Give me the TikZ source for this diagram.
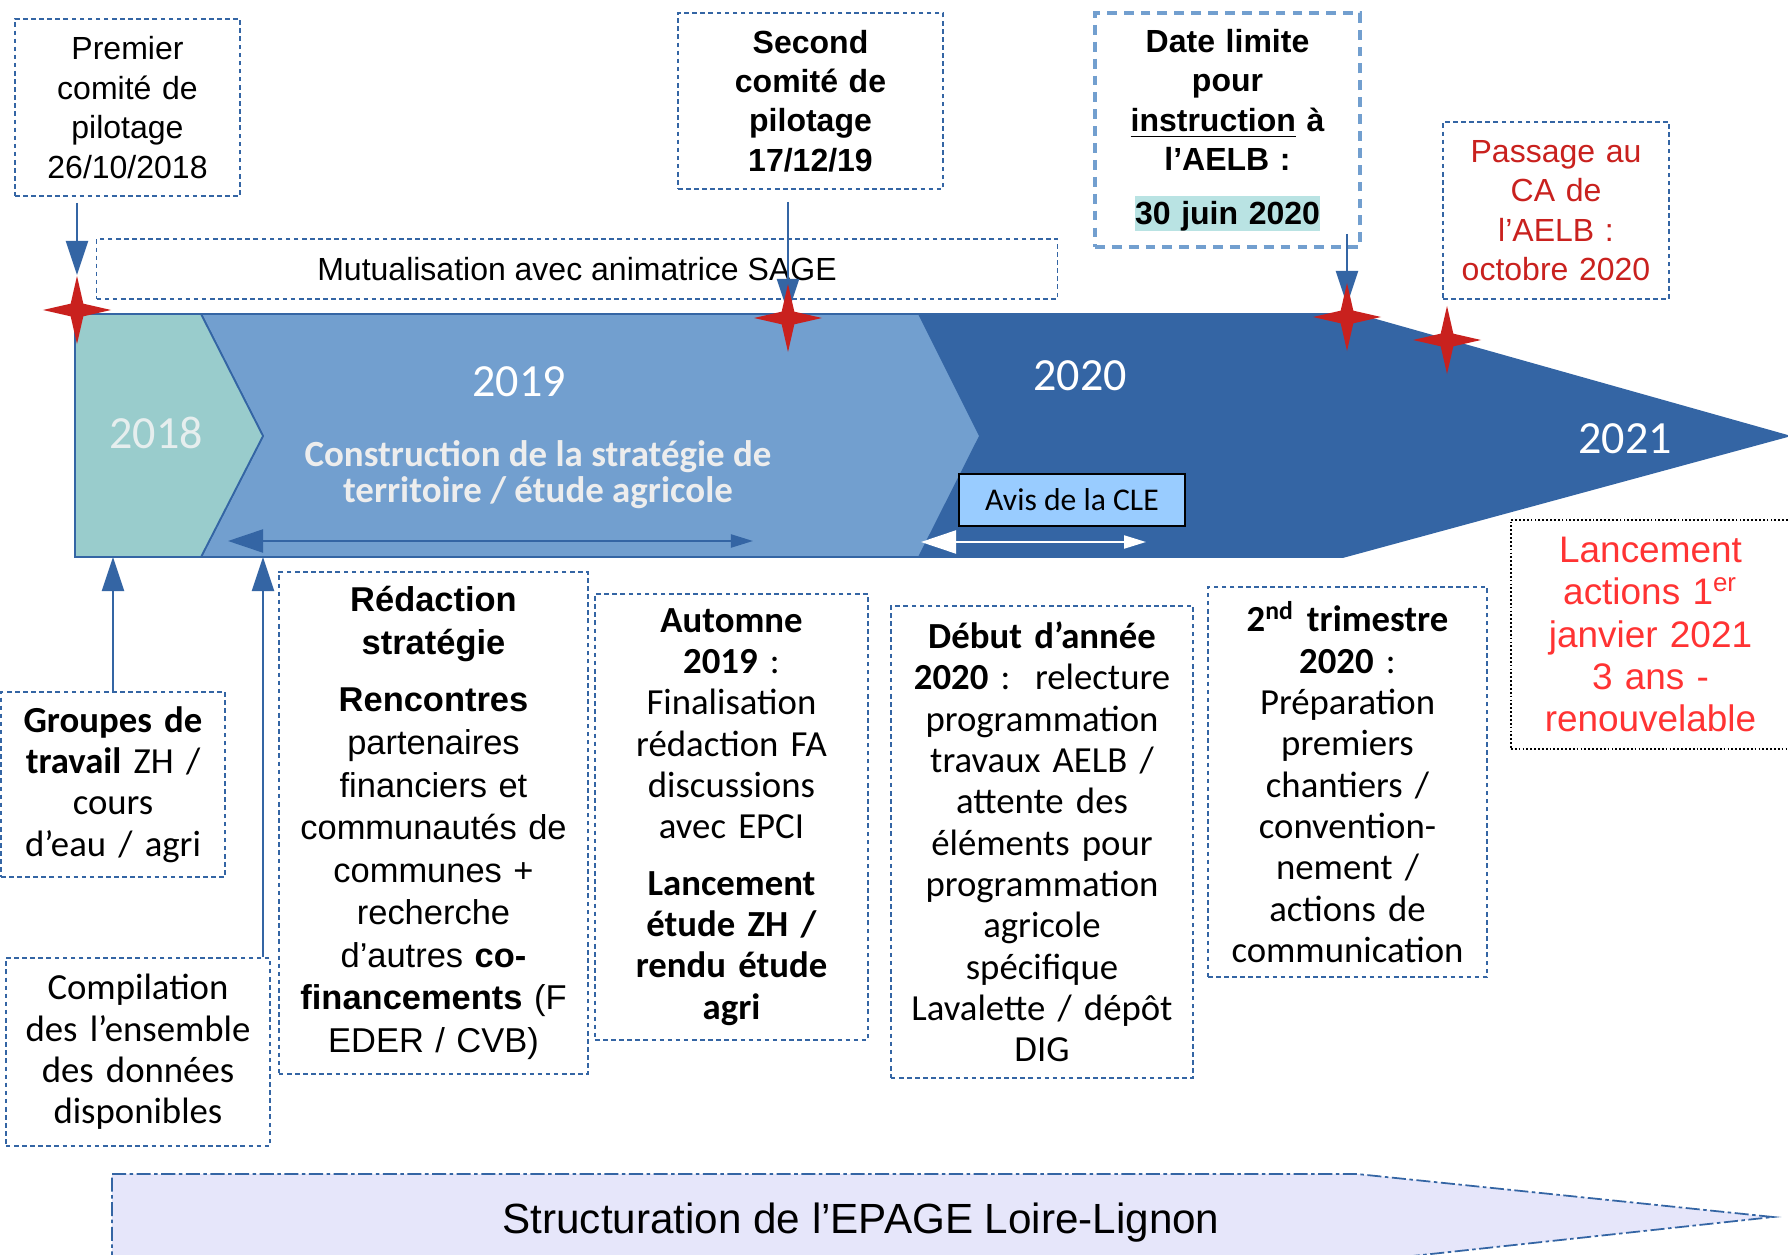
\documentclass[tikz,border=0pt]{standalone}
\usepackage{fontspec}
\setmainfont{Liberation Sans}
\newfontfamily\carlito{Carlito}
\usetikzlibrary{arrows.meta,shapes.geometric}

\definecolor{teal18}{HTML}{99CCCC}
\definecolor{blue19}{HTML}{729FCF}
\definecolor{blue20}{HTML}{3465A4}
\definecolor{sparkred}{HTML}{C9211E}
\definecolor{avisblue}{HTML}{99CCFF}
\definecolor{juinteal}{HTML}{B9E3E3}
\definecolor{epagefill}{HTML}{E6E6FA}
\definecolor{lancred}{HTML}{FF3333}
\definecolor{yeargrey}{HTML}{E6EEEE}

\newcommand{\arialtxt}{\fontsize{9.1}{11.2}\selectfont}
\newcommand{\calitxt}{\carlito\fontsize{10.45}{11.75}\selectfont}

\begin{document}
\begin{tikzpicture}[
	x=0.01cm, y=-0.01cm,
	dbox/.style = {
		draw=blue20, line width=0.4pt,
		dash pattern=on 1.3pt off 1pt,
		align=center, inner sep=0pt,
	},
	spark/.style = {
		star, star points=4, star point ratio=3.8,
		fill=sparkred, inner sep=0pt, minimum size=0.68cm,
	},
	arr/.style = {
		draw=blue20, line width=0.6pt,
		-{Triangle[length=0.34cm,width=0.22cm]},
	},
	span/.style = {
		line width=0.6pt,
		{Triangle[length=0.35cm,width=0.23cm]}-{Triangle[length=0.22cm,width=0.13cm]},
	},
	year/.style = {text=white, font=\carlito\fontsize{13.1}{15}\selectfont},
]

% page
\fill[white] (0,0) rectangle (1788,1255);
\useasboundingbox (0,0) rectangle (1788,1255);

% the big timeline arrow
\filldraw[fill=blue20, draw=blue20, line width=0.5pt]
	(900,314) -- (1355,314) -- (1788,436) -- (1343,557) -- (900,557) -- cycle;
\filldraw[fill=blue19, draw=blue20, line width=0.5pt]
	(201,314) -- (919,314) -- (980,436) -- (919,557) -- (201,557) -- (263,436) -- cycle;
\filldraw[fill=teal18, draw=blue20, line width=0.5pt]
	(75,314) -- (201,314) -- (263,436) -- (201,557) -- (75,557) -- cycle;
\coordinate (bandbot) at (0,557);
\coordinate (tip18) at (263,436);

% years
\node[year, text=yeargrey] (y18) at (156,433) {2018};
\node[year] (y19) at (519,382) {2019};
\node[year] (y20) at (1080,376) {2020};
\node[year] (y21) at (1625,439) {2021};

\node[font=\carlito\bfseries\fontsize{10.5}{10.3}\selectfont,
	text=white!93!black, align=center] (constr) at (538,475)
	{Construction de la stratégie de\\territoire / étude agricole};

% Avis CLE
\node[draw=black, line width=0.5pt, fill=avisblue,
	minimum width=2.26cm, minimum height=0.52cm,
	font=\carlito\fontsize{9}{11}\selectfont] (avis) at (1072,500) {Avis de la CLE};

% spans
\coordinate (r19a) at (228,541);
\coordinate (r19b) at (753,541);
\draw[span, blue20] (r19a) -- (r19b);
\coordinate (r20a) at (921,542);
\coordinate (r20b) at (1146,542);
\draw[span, white] (r20a) -- (r20b);

% EPAGE arrow
\filldraw[fill=epagefill, draw=blue20, line width=0.5pt,
	dash pattern=on 4pt off 1pt on 1pt off 1pt]
	(112,1174) -- (1357,1174) -- (1773,1217) -- (1357,1262) -- (112,1262) -- cycle;
\node[font=\fontsize{12}{14}\selectfont] (epage) at (861,1223)
	{Structuration de l’EPAGE Loire-Lignon};

% top boxes
\node[dbox, minimum width=2.25cm, minimum height=1.77cm, text width=2.15cm,
	font=\arialtxt] (prem) at (127.5,107.5)
	{Premier\\comité de\\pilotage\\26/10/2018};
\node[dbox, minimum width=9.6cm, minimum height=0.6cm, font=\arialtxt]
	(mutu) at (577,269) {Mutualisation avec animatrice SAGE};
\node[dbox, minimum width=2.65cm, minimum height=1.76cm, text width=2.55cm,
	font=\arialtxt\bfseries] (sec) at (810.5,101)
	{Second\\comité de\\pilotage\\17/12/19};
\node[dbox, draw=blue19, line width=1.1pt, dash pattern=on 2.8pt off 2pt,
	minimum width=2.65cm, minimum height=2.34cm, text width=2.55cm,
	font=\arialtxt\bfseries] (dl) at (1227.5,130)
	{Date limite\\pour\\\underline{instruction} à\\l’AELB :\\[4.1pt]%
	{\setlength{\fboxsep}{0pt}\colorbox{juinteal}{\rule[-1.9pt]{0pt}{10pt}30 juin 2020}}};
\node[dbox, minimum width=2.26cm, minimum height=1.77cm, text width=2.16cm,
	font=\arialtxt, text=sparkred] (pass) at (1556,210.5)
	{Passage au\\CA de\\l’AELB :\\octobre 2020};

% bottom boxes
\node[dbox, minimum width=2.24cm, minimum height=1.85cm, text width=2.14cm,
	font=\calitxt] (grp) at (113,784.5)
	{\textbf{Groupes de}\\\textbf{travail} ZH /\\cours\\d’eau / agri};
\node[dbox, minimum width=2.64cm, minimum height=1.88cm, text width=2.54cm,
	font=\calitxt] (comp) at (138,1052)
	{Compilation\\des l’ensemble\\des données\\disponibles};
\node[dbox, minimum width=3.09cm, minimum height=5.02cm, text width=2.99cm,
	font=\fontsize{9.8}{12.1}\selectfont] (redac) at (433.5,823)
	{\textbf{Rédaction}\\\textbf{stratégie}\\[4.3pt]\textbf{Rencontres}\\partenaires\\financiers et\\communautés de\\communes +\\recherche\\d’autres \textbf{co-}\\\textbf{financements} (F\\EDER / CVB)};
\node[dbox, minimum width=2.73cm, minimum height=4.46cm, text width=2.63cm,
	font=\calitxt] (aut) at (731.5,817)
	{\textbf{Automne}\\\textbf{2019} :\\Finalisation\\rédaction FA\\discussions\\avec EPCI\\[4.3pt]\textbf{Lancement}\\\textbf{étude ZH /}\\\textbf{rendu étude}\\\textbf{agri}};
\node[dbox, minimum width=3.02cm, minimum height=4.72cm, text width=2.92cm,
	font=\calitxt] (deb) at (1042,842)
	{\textbf{Début d’année}\\\textbf{2020} :~~relecture\\programmation\\travaux AELB /\\attente des\\éléments pour\\programmation\\agricole\\spécifique\\Lavalette / dépôt\\DIG};
\node[dbox, minimum width=2.79cm, minimum height=3.90cm, text width=2.69cm,
	font=\calitxt] (tri) at (1347.5,782)
	{\textbf{2\textsuperscript{nd} trimestre}\\\textbf{2020} :\\Préparation\\premiers\\chantiers /\\convention-\\nement /\\actions de\\communication};
\node[dbox, draw=black, dash pattern=on 0.5pt off 0.6pt, minimum width=2.79cm,
	minimum height=2.29cm, text width=2.69cm,
	font=\fontsize{10.5}{11.95}\selectfont, text=lancred] (lanc) at (1650.5,634.5)
	{Lancement\\actions 1\textsuperscript{er}\\janvier 2021\\3 ans -\\renouvelable};

% milestones
\coordinate (p1) at (77,310);
\coordinate (p2) at (788,318);
\coordinate (p3) at (1347,317);
\coordinate (p4) at (1447,340);

\draw[arr, shorten <=0.06cm, shorten >=0.35cm] (prem.south -| p1) -- (p1);
\draw[arr, shorten <=0.12cm, shorten >=0.05cm] (sec.south -| p2) -- (p2);
\draw[arr, shorten <=-0.15cm, shorten >=0.12cm] (dl.south -| p3) -- (p3);
\draw[arr] (grp.north) -- (grp.north |- bandbot);
\draw[arr] (comp.north -| tip18) -- (tip18 |- bandbot);

\node[spark] (s1) at (p1) {};
\node[spark] (s2) at (p2) {};
\node[spark] (s3) at (p3) {};
\node[spark] (s4) at (p4) {};

\end{tikzpicture}
\end{document}
